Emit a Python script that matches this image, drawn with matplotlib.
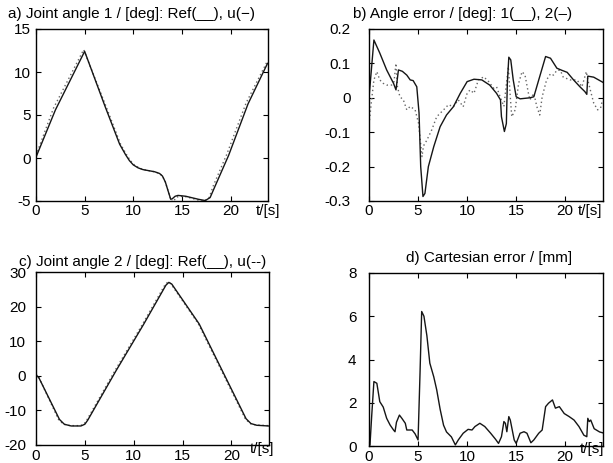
import numpy as np
import matplotlib
matplotlib.use('Agg')
import matplotlib.pyplot as plt

plt.rcParams['font.family'] = ['Liberation Sans', 'DejaVu Sans']
plt.rcParams['font.size'] = 11

# a) joint angle 1, deg
t_a = [0, 2.0, 5.0, 7.1, 8.6, 9.2, 9.6, 10.0, 10.5, 11.0, 12.2, 12.7, 13.0, 13.3, 13.6, 13.85, 14.0, 14.3, 14.6,
       15.4, 16.7, 17.4, 17.9, 18.4, 19.8, 20.8, 21.8, 23.8]
u_a = [0.1, 5.6, 12.4, 6.0, 1.6, 0.4, -0.3, -0.8, -1.15, -1.35, -1.6, -1.8, -2.1, -2.8, -3.9, -4.8, -4.75, -4.45,
       -4.35, -4.45, -4.8, -4.95, -4.6, -3.3, 0.3, 3.3, 6.3, 11.0]
t_ref_a = [0, 1.8, 4.9, 7.2, 8.7, 9.3, 9.7, 10.1, 10.6, 11.0, 12.2, 12.7, 13.0, 13.3, 13.6, 13.9, 14.1, 14.4, 14.7,
           15.4, 16.7, 17.3, 17.8, 18.2, 19.6, 20.6, 21.6, 23.8]
ref_a = [0.3, 5.8, 12.6, 6.0, 1.6, 0.4, -0.3, -0.8, -1.15, -1.35, -1.6, -1.8, -2.1, -2.8, -3.9, -5.0, -5.1, -4.6,
         -4.45, -4.5, -4.9, -5.0, -4.6, -3.3, 0.4, 3.4, 6.4, 11.3]

# b) angle error, deg
t_b1 = [0.0, 0.5, 1.1, 1.8, 2.5, 2.75, 3.0, 3.4, 3.85, 4.2, 4.5, 4.87, 5.1, 5.27, 5.5, 5.7, 6.05, 6.6, 7.25, 7.9,
        8.6, 9.3, 10.0, 10.7, 11.5, 12.3, 13.0, 13.4, 13.5, 13.8, 14.0, 14.1, 14.25, 14.45, 14.7, 15.0, 15.4, 16.4,
        16.8, 17.3, 18.0, 18.5, 19.15, 19.65, 20.2, 20.85, 21.5, 22.0, 22.2, 22.3, 22.9, 23.9]
e_b1 = [0.0, 0.168, 0.13, 0.081, 0.042, 0.023, 0.081, 0.077, 0.066, 0.052, 0.05, 0.032, -0.044, -0.2, -0.287, -0.278,
        -0.2, -0.142, -0.084, -0.05, -0.026, 0.013, 0.047, 0.054, 0.052, 0.037, 0.013, -0.006, -0.055, -0.098, -0.075,
        0.042, 0.118, 0.11, 0.052, 0.003, -0.003, 0.0, 0.003, 0.052, 0.12, 0.115, 0.086, 0.08, 0.074, 0.052, 0.032,
        0.018, 0.01, 0.063, 0.06, 0.044]
t_b2 = [0.05, 0.25, 0.5, 0.8, 1.1, 1.45, 1.8, 2.3, 2.55, 2.75, 2.9, 3.15, 3.5, 3.85, 4.2, 4.7, 5.05, 5.4, 5.55, 5.9,
        6.4, 6.9, 7.6, 8.1, 8.6, 9.1, 9.6, 10.0, 10.3, 10.7, 11.15, 11.7, 12.2, 12.7, 13.0, 13.4, 13.75, 14.05, 14.2,
        14.4, 14.55, 14.9, 15.25, 15.6, 15.9, 16.25, 16.4, 16.8, 17.1, 17.4, 17.65, 18.1, 18.5, 18.8, 19.15, 19.5,
        19.8, 20.5, 21.2, 21.7, 22.15, 22.3, 22.6, 22.9, 23.3, 23.6, 23.8]
e_b2 = [-0.065, -0.01, 0.052, 0.076, 0.052, 0.042, 0.037, 0.037, 0.047, 0.1, 0.032, 0.003, -0.006, -0.035, -0.025,
        -0.035, -0.074, -0.171, -0.14, -0.123, -0.093, -0.055, -0.035, -0.02, -0.026, -0.006, -0.026, 0.013, 0.023,
        0.013, 0.052, 0.061, 0.047, 0.028, 0.032, 0.0, -0.025, 0.052, 0.09, 0.003, -0.055, -0.035, 0.042, 0.076,
        0.066, 0.013, -0.006, 0.013, -0.025, -0.05, 0.003, 0.052, 0.07, 0.066, 0.08, 0.08, 0.06, 0.052, 0.052, 0.032,
        0.076, 0.052, 0.018, -0.015, -0.035, -0.03, -0.006]

# c) joint angle 2, deg
t_c = [0, 0.3, 2.4, 2.9, 3.6, 4.6, 5.0, 5.3, 8.2, 11.0, 13.3, 13.6, 13.9, 16.7, 19.5, 21.5, 22.0, 22.6, 23.8]
u_c = [0.3, -0.6, -12.6, -14.0, -14.5, -14.5, -14.0, -12.8, 1.5, 14.8, 26.2, 27.0, 26.5, 15.0, -1.0, -12.4, -13.8, -14.3, -14.5]
t_ref_c = [0, 0.3, 2.3, 2.8, 3.5, 4.5, 4.9, 5.2, 8.1, 10.9, 13.2, 13.5, 13.8, 16.6, 19.4, 21.4, 21.9, 22.5, 23.8]
ref_c = [0.4, -0.5, -12.6, -14.0, -14.4, -14.4, -14.0, -12.8, 1.6, 14.9, 26.3, 27.1, 26.6, 15.1, -0.9, -12.3, -13.8, -14.2, -14.4]

# d) cartesian error, mm
t_d = [0.1, 0.27, 0.5, 0.8, 1.1, 1.45, 1.8, 2.15, 2.5, 2.65, 2.8, 3.1, 3.35, 3.7, 3.85, 4.4, 4.7, 5.0, 5.2, 5.37,
       5.6, 5.9, 6.2, 6.6, 6.9, 7.25, 7.6, 7.9, 8.4, 8.8, 9.1, 9.6, 10.1, 10.5, 10.8, 11.3, 11.8, 12.4, 12.9, 13.2,
       13.5, 13.75, 13.9, 14.05, 14.25, 14.4, 14.8, 15.0, 15.4, 15.8, 16.1, 16.5, 16.8, 17.3, 17.65, 18.0, 18.3,
       18.7, 19.0, 19.4, 19.9, 20.4, 20.9, 21.4, 21.9, 22.2, 22.3, 22.45, 22.6, 22.95, 23.5, 23.9]
e_d = [0.05, 1.36, 2.98, 2.9, 2.05, 1.8, 1.28, 0.97, 0.74, 0.66, 1.1, 1.43, 1.28, 1.05, 0.74, 0.74, 0.56, 0.28,
       3.36, 6.22, 6.0, 5.1, 3.83, 3.2, 2.6, 1.7, 0.96, 0.65, 0.42, 0.05, 0.28, 0.59, 0.77, 0.74, 0.9, 1.05, 0.9,
       0.59, 0.31, 0.12, 0.43, 1.13, 1.05, 0.66, 1.36, 1.2, 0.28, 0.12, 0.59, 0.66, 0.59, 0.15, 0.28, 0.59, 0.74,
       1.82, 1.98, 2.13, 1.75, 1.82, 1.5, 1.36, 1.2, 0.9, 0.5, 0.43, 1.28, 1.13, 1.2, 0.8, 0.65, 0.6]

x_ticks = [0, 5, 10, 15, 20]
solid = dict(color='#151515', lw=1.0)
dots = dict(color='#666666', lw=1.0, ls=(0, (1, 2)))

fig = plt.figure(figsize=(6.13, 4.63), dpi=100)
W, H = 613.0, 463.0
FS = 11


def make_axes(left, top, right, bottom):
    return fig.add_axes([left / W, 1 - bottom / H, (right - left) / W, (bottom - top) / H])


def style(ax, ylim, yticks, ylabels, ypad, xpad, title, tx, ty):
    ax.set_xlim(0, 23.85)
    ax.set_ylim(*ylim)
    ax.set_xticks(x_ticks)
    ax.set_yticks(yticks)
    ax.set_yticklabels(ylabels)
    ax.tick_params(direction='in', top=True, right=True, length=3.5, width=0.8,
                   labelsize=FS)
    ax.tick_params(axis='y', pad=ypad)
    ax.tick_params(axis='x', pad=xpad)
    for s in ax.spines.values():
        s.set_linewidth(1.0)
    fig.text(tx / W, 1 - ty / H, title, ha='center', va='center', fontsize=FS)


ax_a = make_axes(36, 29, 268, 201)
ax_a.plot(t_ref_a, ref_a, **dots)
ax_a.plot(t_a, u_a, **solid)
style(ax_a, (-5, 15), [-5, 0, 5, 10, 15], ['-5', '0', '5', '10', '15'], 4, 2,
      'a) Joint angle 1 / [deg]: Ref(__), u(\u2212)', 131, 14)
fig.text(268 / W, 1 - 211 / H, 't/[s]', ha='center', va='center', fontsize=FS)

ax_b = make_axes(369, 29, 603, 201)
ax_b.plot(t_b2, e_b2, **dots)
ax_b.plot(t_b1, e_b1, **solid)
style(ax_b, (-0.3, 0.2), [-0.3, -0.2, -0.1, 0, 0.1, 0.2],
      ['-0.3', '-0.2', '-0.1', '0', '0.1', '0.2'], 13, 2,
      'b) Angle error / [deg]: 1(__), 2(\u2013)', 463, 14)
fig.text(590 / W, 1 - 211 / H, 't/[s]', ha='center', va='center', fontsize=FS)

ax_c = make_axes(36, 272, 269, 445)
ax_c.plot(t_ref_c, ref_c, **dots)
ax_c.plot(t_c, u_c, **solid)
style(ax_c, (-20, 30), [-20, -10, 0, 10, 20, 30], ['-20', '-10', '0', '10', '20', '30'], 7, 3,
      'c) Joint angle 2 / [deg]: Ref(__), u(--)', 143, 262)
fig.text(262 / W, 1 - 449 / H, 't/[s]', ha='center', va='center', fontsize=FS)

ax_d = make_axes(369, 273, 603, 446)
ax_d.plot(t_d, e_d, **solid)
style(ax_d, (0, 8), [0, 2, 4, 6, 8], ['0', '2', '4', '6', '8'], 9, 3,
      'd) Cartesian error / [mm]', 489, 258)
fig.text(592 / W, 1 - 449 / H, 't/[s]', ha='center', va='center', fontsize=FS)

fig.savefig('out.png', dpi=100)
